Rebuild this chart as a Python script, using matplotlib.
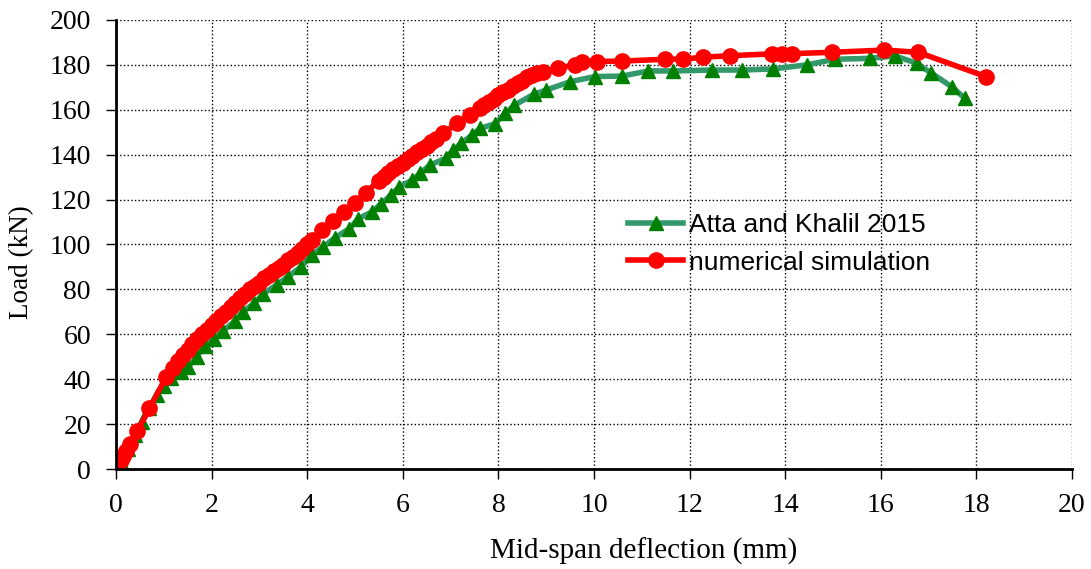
import matplotlib
matplotlib.use("Agg")
import matplotlib.pyplot as plt

# Atta and Khalil 2015 (experiment)
exp_defl = [0, 0.1, 0.25, 0.4, 0.55, 0.7, 0.85, 1.0, 1.16, 1.35, 1.51, 1.69, 1.86, 2.05,
            2.24, 2.49, 2.65, 2.89, 3.08, 3.36, 3.6, 3.87, 4.1, 4.34, 4.58, 4.88, 5.07,
            5.35, 5.54, 5.75, 5.93, 6.2, 6.36, 6.57, 6.9, 7.06, 7.22, 7.45, 7.62, 7.93,
            8.14, 8.33, 8.75, 9.0, 9.5, 10.02, 10.58, 11.14, 11.66, 12.46, 13.09, 13.75,
            14.45, 15.04, 15.77, 16.3, 16.75, 17.06, 17.48, 17.76]
exp_load = [0, 3, 9, 15, 21, 27, 33, 37, 40.5, 43, 45.5, 50, 55, 58,
            61.5, 66, 70, 73.8, 78, 82, 85.7, 90, 95.5, 99, 103, 107, 111.5,
            114.5, 118, 122, 125.7, 128.7, 131.7, 135.4, 138.4, 142.1, 145.1, 148.8, 151.7, 153.8,
            158.4, 162, 167, 168.8, 172.5, 174.8, 175, 177.3, 177.3, 177.7, 177.7, 178.2,
            180, 182.5, 182.9, 184, 180.7, 176.3, 170.3, 165.1]

# numerical simulation
num_defl = [0, 0.05, 0.1, 0.15, 0.2, 0.3, 0.45, 0.7, 1.05, 1.2, 1.3, 1.4, 1.5, 1.6, 1.7,
            1.8, 1.9, 2.0, 2.1, 2.2, 2.3, 2.4, 2.5, 2.6, 2.7, 2.8, 2.9, 3.0, 3.1, 3.2,
            3.3, 3.4, 3.5, 3.6, 3.7, 3.8, 3.9, 4.0, 4.1, 4.3, 4.55, 4.76, 4.99, 5.22,
            5.5, 5.6, 5.7, 5.8, 5.9, 6.0, 6.1, 6.2, 6.3, 6.4, 6.5, 6.6, 6.7, 6.85,
            7.13, 7.4, 7.62, 7.7, 7.8, 7.9, 8.0, 8.1, 8.2, 8.3, 8.4, 8.5, 8.6, 8.7,
            8.8, 8.94, 9.25, 9.6, 9.74, 10.06, 10.58, 11.49, 11.87, 12.29, 12.85,
            13.72, 13.93, 14.14, 14.97, 16.07, 16.78, 18.21]
num_load = [0, 2, 4, 6, 8, 11, 17, 27, 41, 45, 48, 51, 53, 55.5, 58,
            60, 62, 64, 66, 68, 70, 72, 74, 76, 78, 80, 81.5, 83, 85, 86.5,
            88, 89.5, 91, 93, 94.5, 96, 98, 100, 102, 106.5, 110.5, 114.5, 118.3, 123,
            128.5, 130, 132, 133.5, 135, 136.5, 138, 139.5, 141, 142.5, 144, 145.5, 147, 149.5,
            154, 157.5, 160.7, 162, 163.5, 165, 166.5, 168, 169, 170.5, 172, 173, 174.5, 175.5,
            176.5, 177, 178.5, 180, 181.2, 181.5, 181.7, 182.5, 182.6, 183.4, 184.1,
            184.9, 185, 185, 185.6, 186.6, 185.6, 174.7]

fig = plt.figure(figsize=(10.91, 5.69), dpi=100)
ax = fig.add_axes([0.1063, 0.1757, 0.8763, 0.7892])

ax.plot(exp_defl, exp_load, color="#33996a", lw=4, marker="^", ms=9.5,
        mfc="#008000", mec="#008000", label="Atta and Khalil 2015", zorder=3)
ax.plot(num_defl, num_load, color="#ff0000", lw=4, marker="o", ms=11,
        mfc="#ff0000", mec="#ff0000", label="numerical simulation", zorder=4)

ax.set_xlim(0, 20)
ax.set_ylim(0, 200)
ax.set_xticks(range(0, 21, 2))
ax.set_yticks(range(0, 201, 20))
ax.grid(True, color="black", linestyle=":", linewidth=1.0)
ax.set_axisbelow(True)

for s in ["top", "right"]:
    ax.spines[s].set_visible(False)
for s in ["left", "bottom"]:
    ax.spines[s].set_linewidth(2)
    ax.spines[s].set_zorder(5)

serif = "Liberation Serif"
ax.tick_params(direction="out", length=7, width=1, labelsize=20)
ax.tick_params(axis="x", pad=10)
ax.tick_params(axis="y", pad=11)
for lab in ax.get_xticklabels() + ax.get_yticklabels():
    lab.set_fontfamily(serif)

ax.set_xlabel("Mid-span deflection (mm)", fontsize=21, fontfamily=serif)
ax.set_ylabel("Load (kN)", fontsize=19.5, fontfamily=serif)
ax.xaxis.set_label_coords(0.552, -0.152)
ax.yaxis.set_label_coords(-0.086, 0.46)

leg = ax.legend(loc="center left", bbox_to_anchor=(0.5356, 0.501), frameon=False,
                prop={"family": "Liberation Sans", "size": 19},
                handlelength=2.1, handletextpad=0.2, labelspacing=0.5,
                borderpad=0, borderaxespad=0)

fig.savefig("out.png", dpi=100)
